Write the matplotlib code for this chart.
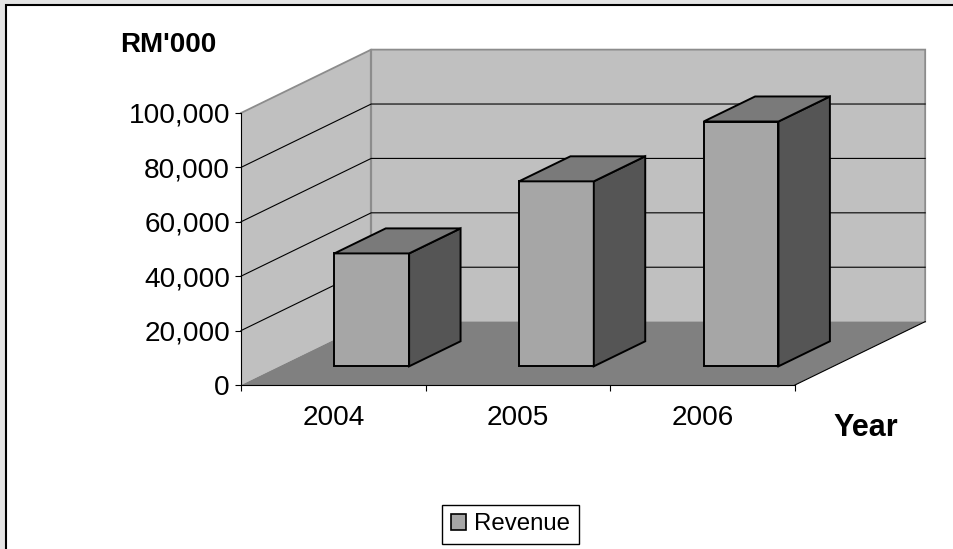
# -*- coding: utf-8 -*-
"""
Revenue by year, drawn as an old spreadsheet style 3D column chart.
"""
# IMPORTS
import matplotlib
matplotlib.use('Agg')
import matplotlib.pyplot as plt
from matplotlib.patches import Polygon, Patch, Rectangle

# DATA
years = ['2004', '2005', '2006']
revenue = [41500, 68000, 90000]
y_ticks = [0, 20000, 40000, 60000, 80000, 100000]

# VARIABLES
W, H = 954, 549
depth_x = 0.705         # chart depth, in categories
depth_y = 23300         # chart depth, in revenue units
bar_width = 0.405
bar_d0, bar_d1 = 0.295, 0.69   # front and back of the columns, fraction of depth

wall_color = '#c0c0c0'
wall_edge = '#8c8c8c'
floor_color = '#808080'
front_color = '#a6a6a6'
top_color = '#7a7a7a'
side_color = '#555555'

plt.rcParams['font.family'] = ['Liberation Sans', 'DejaVu Sans']


# FUNCTIONS
def proj(x, y, d=0):
    # Category/value position pushed back by a fraction d of the depth
    return (x + d * depth_x, y + d * depth_y)


def add_face(ax, points, color, edge='none', lw=0, zorder=1):
    ax.add_patch(Polygon(points, closed=True, facecolor=color, edgecolor=edge,
                         linewidth=lw, joinstyle='miter', clip_on=False, zorder=zorder))


# MAIN
fig = plt.figure(figsize=(W / 100, H / 100), dpi=100, facecolor='#e4e4e4')

# White chart area with black frame, running off right and bottom
fig.add_artist(Rectangle((6.3 / W, -0.05), 1.05, 1.05 - 5 / H,
                         transform=fig.transFigure, facecolor='white',
                         edgecolor='black', linewidth=1.5, zorder=-1))

ax = fig.add_axes([241 / W, (H - 385) / H, 554 / W, 272 / H])
ax.set_xlim(0, len(years))
ax.set_ylim(0, 100000)
ax.autoscale(False)
ax.patch.set_visible(False)
for s in ['top', 'right']:
    ax.spines[s].set_visible(False)
for s in ['left', 'bottom']:
    ax.spines[s].set_linewidth(0.8)
    ax.spines[s].set_zorder(2.5)

n = len(years)
top = y_ticks[-1]

# Walls and floor
add_face(ax, [proj(0, 0, 1), proj(n, 0, 1), proj(n, top, 1), proj(0, top, 1)], wall_color)
add_face(ax, [proj(0, 0), proj(0, 0, 1), proj(0, top, 1), proj(0, top)], wall_color)
add_face(ax, [proj(0, 0), proj(n, 0), proj(n, 0, 1), proj(0, 0, 1)], floor_color)

# Gridlines across both walls
for v in y_ticks[1:-1]:
    xs, ys = zip(proj(0, v), proj(0, v, 1), proj(n, v, 1))
    ax.plot(xs, ys, color='black', lw=0.8, clip_on=False, zorder=1.5)

# Wall outline
xs, ys = zip(proj(0, top), proj(0, top, 1), proj(n, top, 1), proj(n, 0, 1))
ax.plot(xs, ys, color=wall_edge, lw=1.3, clip_on=False, zorder=1.4, solid_joinstyle='miter')
xs, ys = zip(proj(0, 0, 1), proj(0, top, 1))
ax.plot(xs, ys, color=wall_edge, lw=1.6, clip_on=False, zorder=1.4)
xs, ys = zip(proj(n, 0), proj(n, 0, 1))
ax.plot(xs, ys, color='black', lw=0.8, clip_on=False, zorder=1.5)

# Columns
for i, val in enumerate(revenue):
    x0 = i + 0.5 - bar_width / 2
    x1 = i + 0.5 + bar_width / 2
    add_face(ax, [proj(x0, 0, bar_d0), proj(x1, 0, bar_d0), proj(x1, val, bar_d0), proj(x0, val, bar_d0)],
             front_color, 'black', 1.4, 3)
    add_face(ax, [proj(x1, 0, bar_d0), proj(x1, 0, bar_d1), proj(x1, val, bar_d1), proj(x1, val, bar_d0)],
             side_color, 'black', 1.4, 3)
    add_face(ax, [proj(x0, val, bar_d0), proj(x1, val, bar_d0), proj(x1, val, bar_d1), proj(x0, val, bar_d1)],
             top_color, 'black', 1.4, 3)

# Axes: ticks between categories, labels centred on them
ax.set_yticks(y_ticks)
ax.set_yticklabels([format(v, ',') for v in y_ticks], fontsize=20.2)
ax.set_xticks(range(n + 1))
ax.set_xticklabels([])
ax.set_xticks([i + 0.5 for i in range(n)], minor=True)
ax.set_xticklabels(years, minor=True, fontsize=20.2)
ax.tick_params(axis='y', length=4.5, width=0.8, pad=3.5)
ax.tick_params(axis='x', which='major', length=4.5, width=0.8)
ax.tick_params(axis='x', which='minor', length=0, pad=14.6)

# Axis titles
fig.text(120 / W, 1 - 52 / H, "RM'000", fontsize=20, fontweight='bold', ha='left', va='baseline')
fig.text(833 / W, 1 - 436 / H, 'Year', fontsize=22, fontweight='bold', ha='left', va='baseline')

# Legend
fig.legend(handles=[Patch(facecolor=front_color, edgecolor='black', linewidth=1.2, label='Revenue')],
           loc='center', bbox_to_anchor=(510.5 / W, 1 - 524.5 / H), fontsize=17.3,
           fancybox=False, framealpha=1, edgecolor='black', handlelength=0.62, handleheight=0.62,
           handletextpad=0.35, borderpad=0.36, borderaxespad=0)

fig.savefig('out.png', dpi=100, facecolor=fig.get_facecolor())
